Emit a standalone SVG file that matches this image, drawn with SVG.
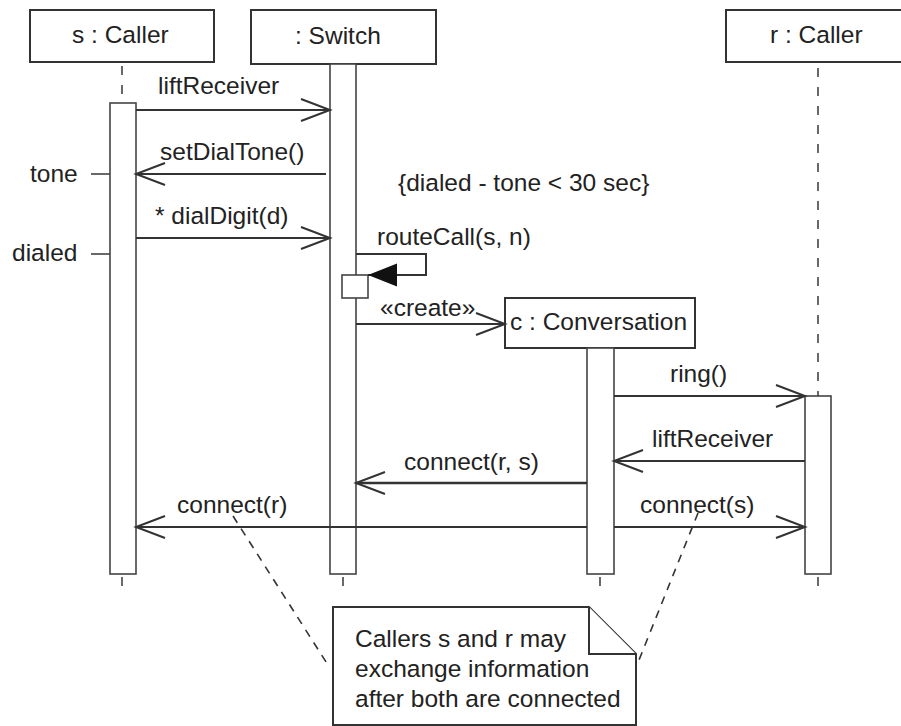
<svg xmlns="http://www.w3.org/2000/svg" width="901" height="726" viewBox="0 0 901 726">
  <style>
    text { font-family: "Liberation Sans", Arial, Helvetica, sans-serif; font-size: 24.5px; fill: #222; }
    .box { fill: #fff; stroke: #333; stroke-width: 2; }
    .bar { fill: #fff; stroke: #444; stroke-width: 1.6; }
    .life { stroke: #444; stroke-width: 1.6; stroke-dasharray: 9 10; fill: none; }
    .tick { stroke: #444; stroke-width: 1.6; }
    .msg { stroke: #333; stroke-width: 2; fill: none; }
    .thick { stroke-width: 2.6; }
    .link { stroke: #333; stroke-width: 1.6; stroke-dasharray: 8 7; fill: none; }
  </style>
  <defs>
    <marker id="open" viewBox="0 0 34 26" markerWidth="34" markerHeight="26" refX="31" refY="13" orient="auto" markerUnits="userSpaceOnUse">
      <path d="M2,2 L31,13 L2,24" fill="none" stroke="#333" stroke-width="2"/>
    </marker>
    <marker id="filled" viewBox="0 0 30 24" markerWidth="30" markerHeight="24" refX="29" refY="12" orient="auto" markerUnits="userSpaceOnUse">
      <path d="M0,0.5 L29,12 L0,23.5 Z" fill="#111"/>
    </marker>
  </defs>

  <rect width="901" height="726" fill="#fff"/>

  <!-- s : Caller -->
  <g id="s_caller">
    <rect class="box" x="30" y="10" width="184" height="52"/>
    <text x="72" y="43">s : Caller</text>
    <line class="life" x1="122" y1="66" x2="122" y2="103"/>
    <rect class="bar" x="110" y="103" width="26" height="471"/>
    <line class="tick" x1="122" y1="577" x2="122" y2="586"/>
  </g>

  <!-- : Switch -->
  <g id="switch">
    <rect class="box" x="251" y="10" width="185" height="54"/>
    <text x="295" y="44">: Switch</text>
    <rect class="bar" x="330" y="64" width="26" height="510"/>
    <line class="tick" x1="343" y1="577" x2="343" y2="586"/>
    <!-- nested activation for routeCall -->
    <rect class="bar" x="342" y="275" width="26" height="23"/>
  </g>

  <!-- r : Caller -->
  <g id="r_caller">
    <rect class="box" x="726" y="10" width="190" height="52"/>
    <text x="770" y="43">r : Caller</text>
    <line class="life" x1="818" y1="68" x2="818" y2="396"/>
    <rect class="bar" x="805" y="396" width="26" height="178"/>
    <line class="tick" x1="818" y1="577" x2="818" y2="586"/>
  </g>

  <!-- c : Conversation -->
  <g id="conversation">
    <rect class="box" x="505" y="298" width="190" height="50"/>
    <text x="510" y="330">c : Conversation</text>
    <rect class="bar" x="587" y="348" width="27" height="226"/>
    <line class="tick" x1="600" y1="577" x2="600" y2="586"/>
  </g>

  <!-- time marks on s : Caller -->
  <g id="time_marks">
    <line class="tick" x1="91" y1="174" x2="110" y2="174"/>
    <text x="30" y="182">tone</text>
    <line class="tick" x1="91" y1="254" x2="110" y2="254"/>
    <text x="12" y="261">dialed</text>
  </g>

  <!-- timing constraint -->
  <g id="constraint">
    <text x="398" y="191">{dialed - tone &lt; 30 sec}</text>
  </g>

  <!-- messages -->
  <g id="connectors">
    <line class="msg" x1="136" y1="110" x2="330" y2="110" marker-end="url(#open)"/>
    <text x="158" y="94">liftReceiver</text>

    <line class="msg" x1="326" y1="174" x2="136" y2="174" marker-end="url(#open)"/>
    <text x="160" y="160">setDialTone()</text>

    <line class="msg" x1="136" y1="238" x2="330" y2="238" marker-end="url(#open)"/>
    <text x="155" y="224">* dialDigit(d)</text>

    <path class="msg" d="M356,254 H426 V275 H368" marker-end="url(#filled)"/>
    <text x="377" y="245">routeCall(s, n)</text>

    <line class="msg" x1="356" y1="324" x2="505" y2="324" marker-end="url(#open)"/>
    <text x="380" y="316">«create»</text>

    <line class="msg" x1="614" y1="396" x2="805" y2="396" marker-end="url(#open)"/>
    <text x="670" y="382">ring()</text>

    <line class="msg" x1="805" y1="461" x2="614" y2="461" marker-end="url(#open)"/>
    <text x="652" y="447">liftReceiver</text>

    <line class="msg thick" x1="587" y1="483" x2="356" y2="483" marker-end="url(#open)"/>
    <text x="404" y="470">connect(r, s)</text>

    <line class="msg" x1="587" y1="527" x2="136" y2="527" marker-end="url(#open)"/>
    <text x="177" y="513">connect(r)</text>

    <line class="msg" x1="614" y1="527" x2="805" y2="527" marker-end="url(#open)"/>
    <text x="640" y="513">connect(s)</text>

    <line class="link" x1="233" y1="516" x2="328" y2="665"/>
    <line class="link" x1="698" y1="513" x2="639" y2="660"/>
  </g>

  <!-- note -->
  <g id="note">
    <path class="box" d="M333,607 H589 L636,654 V725 H333 Z"/>
    <path class="box" d="M589,607 V654 H636" fill="none"/>
    <text x="355" y="647">Callers s and r may</text>
    <text x="355" y="677">exchange information</text>
    <text x="355" y="707">after both are connected</text>
  </g>
</svg>
